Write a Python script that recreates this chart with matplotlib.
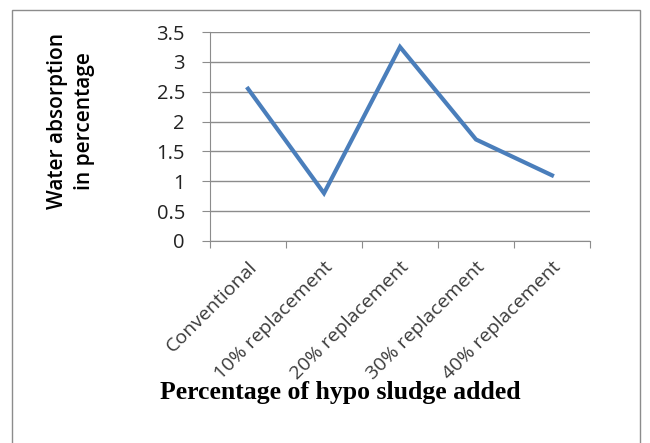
import matplotlib
matplotlib.use("Agg")
import matplotlib.pyplot as plt
from matplotlib.patches import Rectangle

categories = ["Conventional", "10% replacement", "20% replacement",
              "30% replacement", "40% replacement"]
absorption = [2.55, 0.8, 3.25, 1.7, 1.1]
y_ticks = [0, 0.5, 1, 1.5, 2, 2.5, 3, 3.5]
y_tick_labels = ["0", "0.5", "1", "1.5", "2", "2.5", "3", "3.5"]

fig = plt.figure(figsize=(6.5, 4.43), dpi=100)
fig.patch.set_facecolor("white")

# outer chart frame
fig.add_artist(Rectangle((12 / 650, -0.02), 628 / 650, 1 - 10 / 443 + 0.02,
                         transform=fig.transFigure, fill=False,
                         edgecolor="#8c8c8c", linewidth=1.0))

ax = fig.add_axes([210 / 650, 1 - 241 / 443, 380 / 650, 209 / 443])
x = list(range(len(categories)))
ax.plot(x, absorption, color="#4a7ebb", linewidth=3.0, solid_joinstyle="miter")

ax.set_xlim(-0.5, len(categories) - 0.5)
ax.set_ylim(0, 3.5)
ax.set_yticks(y_ticks)
ax.set_yticklabels(y_tick_labels, fontsize=14.5, family="Open Sans", color="#222222")
ax.yaxis.grid(True, color="#8c8c8c", linewidth=1.0)
ax.set_axisbelow(True)

ax.set_xticks([i - 0.5 for i in range(len(categories) + 1)], minor=False)
ax.set_xticklabels([])
ax.set_xticks(x, minor=True)
ax.set_xticklabels(categories, minor=True, rotation=45, ha="right",
                   rotation_mode="anchor", fontsize=14, family="Open Sans",
                   color="#3a3a3a")
ax.tick_params(axis="x", which="minor", length=0, pad=12)
ax.tick_params(axis="x", which="major", length=5, color="#8c8c8c", direction="out")
ax.tick_params(axis="y", length=6, color="#8c8c8c", pad=12)

for s in ["top", "right"]:
    ax.spines[s].set_visible(False)
for s in ["left", "bottom"]:
    ax.spines[s].set_color("#8c8c8c")

fig.text(71 / 650, 1 - 121 / 443, "Water absorption\nin percentage",
         rotation=90, ha="center", va="center", fontsize=15,
         fontweight="semibold", family="Open Sans", linespacing=1.4)

fig.text(340 / 650, 1 - 392 / 443, "Percentage of hypo sludge added",
         ha="center", va="center", fontsize=18.5, fontweight="bold",
         family="Liberation Serif")

fig.savefig("out.png", dpi=100)
